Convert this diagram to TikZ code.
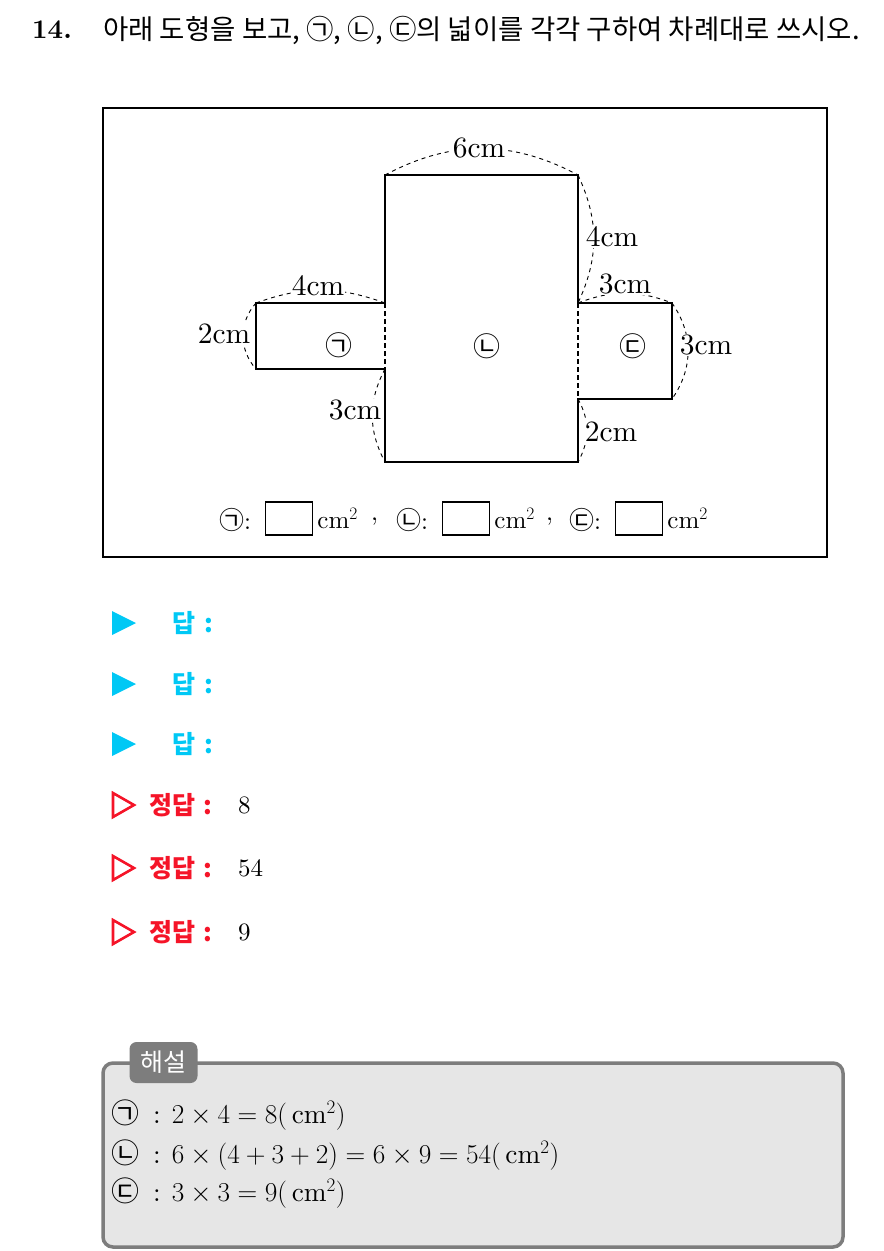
\RequirePackage{fix-cm}
\documentclass[tikz,border=0pt]{standalone}
\usepackage{fontspec}
\setmainfont{lmroman10-regular.otf}[BoldFont=lmroman10-bold.otf]
\newfontfamily\kr{Noto Sans CJK KR}
\definecolor{dapblue}{RGB}{0,200,245}
\definecolor{jeongred}{RGB}{245,20,40}
\definecolor{haebox}{RGB}{230,230,230}
\definecolor{haeline}{RGB}{125,125,125}
\tikzset{
  dimline/.style={line width=0.9,dash pattern=on 4pt off 4pt},
  dimlab/.style={fill=white,inner sep=1pt,font=\fontsize{29.5}{29.5}\selectfont},
  maru/.style={inner sep=0pt,font=\kr\fontsize{27}{27}\selectfont},
  ansbox/.style={draw,line width=1.2,minimum width=47,minimum height=33,inner sep=0pt},
  rowtext/.style={anchor=west,inner sep=0pt,font=\fontsize{25}{25}\selectfont},
  dap/.style={anchor=west,inner sep=0pt,font=\kr\bfseries\fontsize{25}{25}\selectfont},
  haeltext/.style={anchor=west,inner sep=0pt,font=\fontsize{27.3}{27.3}\selectfont}
}
\newcommand\haemaru[1]{{\kr\fontsize{28}{28}\selectfont #1}\hspace{14pt}:\hspace{11pt}}
\begin{document}
\begin{tikzpicture}[x=1pt,y=-1pt]
  \useasboundingbox (0,0) rectangle (884,1251);

  \node[anchor=west,inner sep=0pt,font=\bfseries\fontsize{27}{27}\selectfont] (qnum) at (32,30) {14.};
  \node[anchor=west,inner sep=0pt,font=\kr\fontsize{27.5}{27.5}\selectfont] (qtext) at (103,30) {아래 도형을 보고, ㉠, ㉡, ㉢의 넓이를 각각 구하여 차례대로 쓰시오.};

  \draw[line width=1.6] (103,108) rectangle (827,557);

  % corners of the three rectangles
  \coordinate (mainNW) at (385,175); \coordinate (mainNE) at (578,175);
  \coordinate (mainSW) at (385,462); \coordinate (mainSE) at (578,462);
  \coordinate (leftNW) at (256,303); \coordinate (leftSW) at (256,369);
  \coordinate (leftNE) at (385,303); \coordinate (leftSE) at (385,369);
  \coordinate (rightNW) at (578,303); \coordinate (rightSW) at (578,399);
  \coordinate (rightNE) at (672,303); \coordinate (rightSE) at (672,399);

  % dimension arcs
  \draw[dimline] (mainNW) to[bend left=28] (mainNE);
  \draw[dimline] (mainNE) to[bend left=25] (rightNW);
  \draw[dimline] (rightNW) to[bend left=21] (rightNE);
  \draw[dimline] (rightNE) to[bend left=35] (rightSE);
  \draw[dimline] (rightSW) to[bend left=29] (mainSE);
  \draw[dimline] (leftNW) to[bend left=20] (leftNE);
  \draw[dimline] (leftNW) to[bend right=42] (leftSW);
  \draw[dimline] (leftSE) to[bend right=28] (mainSW);

  \node[dimlab] (l6) at (479,148) {6cm};
  \node[dimlab] (r4) at (612,237) {4cm};
  \node[dimlab] (r3a) at (625,284) {3cm};
  \node[dimlab] (r3b) at (706,345) {3cm};
  \node[dimlab] (r2) at (611,432) {2cm};
  \node[dimlab] (l4) at (318,286) {4cm};
  \node[dimlab] (l2) at (224,334) {2cm};
  \node[dimlab] (l3) at (355,410) {3cm};

  % rectangles
  \draw[line width=1.2] (leftNE)--(leftNW)--(leftSW)--(leftSE);
  \draw[line width=1.2] (leftNE)--(mainNW)--(mainNE)--(rightNW)--(rightNE)--(rightSE)--(rightSW)--(mainSE)--(mainSW)--(leftSE);
  \draw[line width=1.2,dash pattern=on 5pt off 3pt] (leftNE)--(leftSE);
  \draw[line width=1.2,dash pattern=on 5pt off 3pt] (rightNW)--(rightSW);

  \node[maru] (ga) at (339,345) {㉠};
  \node[maru] (na) at (487,346) {㉡};
  \node[maru] (da) at (633,346) {㉢};

  % answer row in the frame
  \foreach \n/\x/\c in {1/219/㉠,2/396/㉡,3/569/㉢}{
    \node[rowtext] (lab\n) at (\x,520) {{\kr\fontsize{25}{25}\selectfont\c}:};
    \node[ansbox,anchor=west] (box\n) at (\x+46,518.5) {};
    \node[rowtext] (unit\n) at ([xshift=4pt]box\n.east) {cm$^2$};
  }
  \node[rowtext] (comma1) at (371,522) {,};
  \node[rowtext] (comma2) at (546,522) {,};

  % answers
  \foreach \n/\y in {1/623,2/684,3/744}{
    \fill[dapblue] (112,\y-12) -- (136,\y) -- (112,\y+12) -- cycle;
    \node[dap,text=dapblue] (dap\n) at (172,\y) {답\hspace{9pt}:};
  }
  \foreach \n/\y/\v in {1/805/8,2/868/54,3/932/9}{
    \draw[jeongred,line width=2.6,line join=miter] (113,\y-12) -- (134,\y) -- (113,\y+12) -- cycle;
    \node[dap,text=jeongred] (jeong\n) at (149,\y) {정답\hspace{8pt}:};
    \node[rowtext] (val\n) at (238,\y) {\v};
  }

  % explanation
  \draw[haeline,line width=3.5,fill=haebox,rounded corners=10] (103,1063) rectangle (843,1247);
  \node[fill=haeline,rounded corners=7,text=white,minimum width=68,minimum height=41,inner sep=0pt,font=\kr\fontsize{25}{25}\selectfont] (haeseol) at (163.5,1062.5) {해설};
  \node[haeltext] (h1) at (111,1115) {\haemaru{㉠}$2\times 4=8(\,\mathrm{cm}^2)$};
  \node[haeltext] (h2) at (111,1155) {\haemaru{㉡}$6\times(4+3+2)=6\times 9=54(\,\mathrm{cm}^2)$};
  \node[haeltext] (h3) at (111,1193) {\haemaru{㉢}$3\times 3=9(\,\mathrm{cm}^2)$};
\end{tikzpicture}
\end{document}
